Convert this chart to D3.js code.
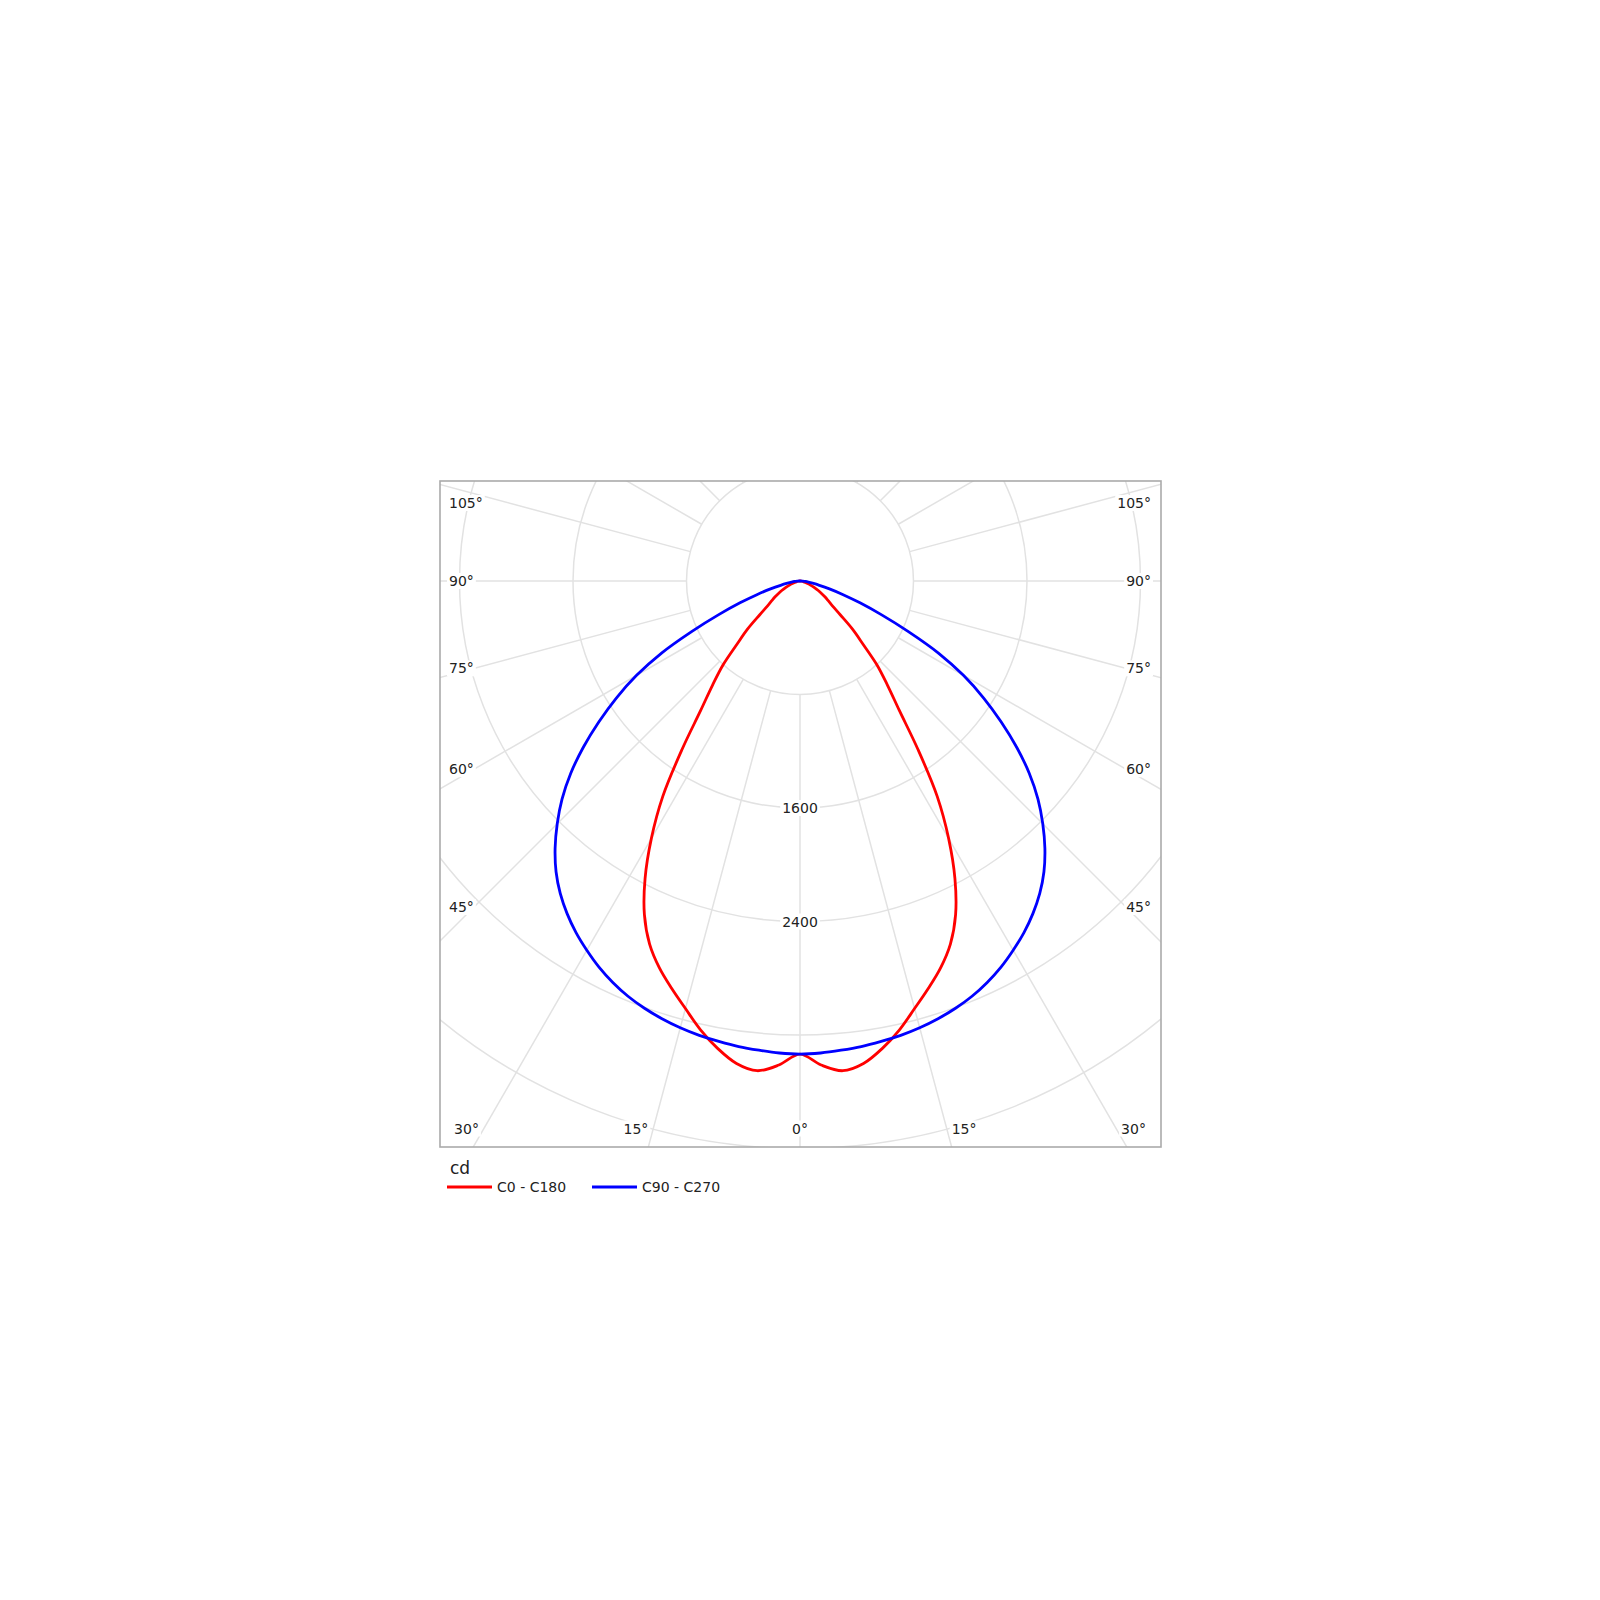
<!DOCTYPE html>
<html>
<head>
<meta charset="utf-8">
<script src="https://cdn.jsdelivr.net/npm/d3@7"></script>
<style>
  body { margin: 0; background: #fff; }
  text { font-family: "DejaVu Sans", sans-serif; fill: #222; }
</style>
</head>
<body>
<script>
// gamma angles (deg from nadir) and luminous intensity in cd
var gamma = [0, 2.5, 5, 7.5, 10, 12.5, 15, 17.5, 20, 22.5, 25, 27.5, 30, 32.5, 35, 37.5, 40, 42.5, 45,
             47.5, 50, 52.5, 55, 57.5, 60, 62.5, 65, 67.5, 70, 72.5, 75, 77.5, 80, 82.5, 85, 87.5, 90];
var c0c180 = [3335, 3415, 3465, 3430, 3345, 3240, 3120, 3010, 2900, 2770, 2595, 2365, 2095, 1800, 1450, 1150, 960, 805, 625,
              500, 370, 290, 245, 210, 175, 145, 115, 90, 70, 52, 37, 28, 20, 14, 8, 3, 0];
var c90c270 = [3335, 3330, 3320, 3310, 3295, 3280, 3260, 3235, 3205, 3168, 3122, 3068, 3005, 2938, 2862, 2776, 2675, 2555, 2420,
               2275, 2110, 1925, 1730, 1535, 1330, 1100, 840, 620, 450, 315, 215, 140, 90, 60, 40, 20, 0];

var ringValues = [800, 1600, 2400, 3200, 4000, 4800];
var ringLabels = [1600, 2400];
var spokeAngles = [0, 15, 30, 45, 60, 75, 90, 105, 120, 135, 150, 165, 180];
var sideTicks = [105, 90, 75, 60, 45];
var bottomTicks = [30, 15, 0];
var seriesNames = ["C0 - C180", "C90 - C270"];
var seriesColors = ["#ff0000", "#0000ff"];

var width = 1600, height = 1600;
var box = {left: 440, top: 481, width: 721, height: 666};
var cx = box.left + 360, cy = box.top + 100;

var svg = d3.select("body")
  .append("svg")
    .attr("width", width)
    .attr("height", height);

var r = d3.scaleLinear()
    .domain([0, 800])
    .range([0, 113.5]);

var rad = d3.scaleLinear()
    .domain([0, 180])
    .range([0, Math.PI]);

svg.append("defs").append("clipPath")
    .attr("id", "boxclip")
  .append("rect")
    .attr("x", box.left)
    .attr("y", box.top)
    .attr("width", box.width)
    .attr("height", box.height);

var plot = svg.append("g")
    .attr("clip-path", "url(#boxclip)")
  .append("g")
    .attr("transform", "translate(" + cx + "," + cy + ")");

// rings
plot.selectAll("circle.ring")
    .data(ringValues)
    .enter().append("circle")
      .attr("class", "ring")
      .attr("r", function(d) { return r(d); })
      .attr("fill", "none")
      .attr("stroke", "#e2e2e2")
      .attr("stroke-width", 1.5);

// spokes, both sides
var spokes = [];
spokeAngles.forEach(function(a) {
    spokes.push({a: a, side: 1});
    if (a > 0 && a < 180) spokes.push({a: a, side: -1});
});

plot.selectAll("line.spoke")
    .data(spokes)
    .enter().append("line")
      .attr("class", "spoke")
      .attr("x1", function(d) { return d.side * Math.sin(rad(d.a)) * r(800); })
      .attr("y1", function(d) { return Math.cos(rad(d.a)) * r(800); })
      .attr("x2", function(d) { return d.side * Math.sin(rad(d.a)) * r(6400); })
      .attr("y2", function(d) { return Math.cos(rad(d.a)) * r(6400); })
      .attr("stroke", "#e2e2e2")
      .attr("stroke-width", 1.5);

// curves, mirrored left/right
function curvePoints(values) {
    var pts = [];
    for (var i = gamma.length - 1; i >= 0; i--) pts.push([Math.PI + rad(gamma[i]), values[i]]);
    for (var j = 1; j < gamma.length; j++) pts.push([Math.PI - rad(gamma[j]), values[j]]);
    return pts;
}

var radialLine = d3.lineRadial()
    .angle(function(d) { return d[0]; })
    .radius(function(d) { return r(d[1]); })
    .curve(d3.curveCatmullRom);

[c0c180, c90c270].forEach(function(series, i) {
    plot.append("path")
        .attr("d", radialLine(curvePoints(series)))
        .attr("fill", "none")
        .attr("stroke", seriesColors[i])
        .attr("stroke-width", 2.8)
        .attr("stroke-linejoin", "round");
});

// labels
var labels = svg.append("g").classed("labels", true);

function addLabel(txt, x, y, anchor) {
    var g = labels.append("g");
    var t = g.append("text")
        .text(txt)
        .attr("x", x)
        .attr("y", y)
        .attr("text-anchor", anchor)
        .attr("dominant-baseline", "central")
        .style("font-size", "14px");
    var bb = t.node().getBBox();
    g.insert("rect", "text")
        .attr("x", bb.x - 2)
        .attr("y", bb.y)
        .attr("width", bb.width + 4)
        .attr("height", bb.height)
        .attr("fill", "#fff");
}

ringLabels.forEach(function(v) {
    addLabel(v, cx, cy + r(v), "middle");
});

var sideDist = cx - (box.left + 34);
sideTicks.forEach(function(a) {
    var y = cy + sideDist * Math.cos(rad(a)) / Math.sin(rad(a));
    y = Math.max(y, box.top + 22);
    addLabel(a + "°", box.left + 9, y, "start");
    addLabel(a + "°", box.left + box.width - 10, y, "end");
});

var bottomY = box.top + box.height - 18.5;
bottomTicks.forEach(function(a) {
    if (a === 0) {
        addLabel("0°", cx, bottomY, "middle");
        return;
    }
    var dx = (bottomY - cy) * Math.tan(rad(a));
    addLabel(a + "°", cx - dx - 5, bottomY, "end");
    addLabel(a + "°", cx + dx + 5, bottomY, "start");
});

// frame
svg.append("rect")
    .attr("x", box.left)
    .attr("y", box.top)
    .attr("width", box.width)
    .attr("height", box.height)
    .attr("fill", "none")
    .attr("stroke", "#aaaaaa")
    .attr("stroke-width", 1.6);

// legend
var legend = svg.append("g");
legend.append("text")
    .text("cd")
    .attr("x", box.left + 10)
    .attr("y", box.top + box.height + 27)
    .style("font-size", "17px");

var legendX = [box.left + 7, box.left + 152];
seriesNames.forEach(function(name, i) {
    var y = box.top + box.height + 40;
    legend.append("line")
        .attr("x1", legendX[i])
        .attr("x2", legendX[i] + 45)
        .attr("y1", y)
        .attr("y2", y)
        .attr("stroke", seriesColors[i])
        .attr("stroke-width", 3);
    legend.append("text")
        .text(name)
        .attr("x", legendX[i] + 50)
        .attr("y", y)
        .attr("dominant-baseline", "central")
        .style("font-size", "14px");
});
</script>
</body>
</html>
